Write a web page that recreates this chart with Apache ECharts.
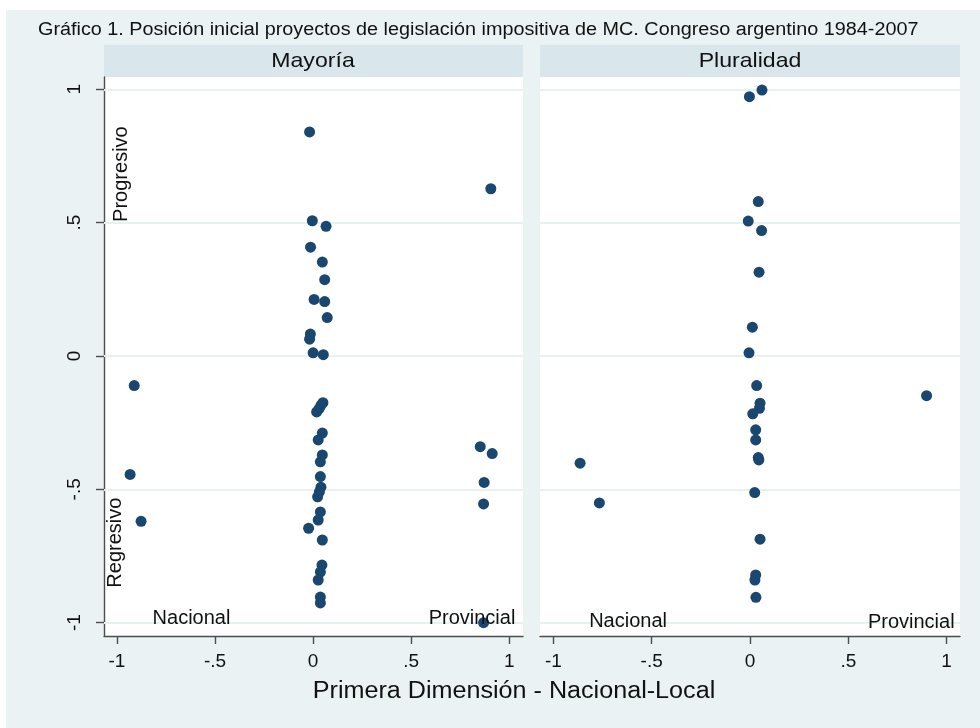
<!DOCTYPE html>
<html>
<head>
<meta charset="utf-8">
<script src="https://cdn.jsdelivr.net/npm/echarts@6/dist/echarts.min.js"></script>
<style>
  html, body { margin: 0; padding: 0; background: #ffffff; }
  #chart { width: 980px; height: 728px; }
</style>
</head>
<body>
<div id="chart"></div>
<script>
// Initial position of each bill: [first dimension (national-local), second dimension (progressive-regressive)]
const mayoria = [
  [-0.018, 0.840], [0.906, 0.627], [-0.004, 0.507], [0.066, 0.486], [-0.013, 0.408],
  [0.047, 0.352], [0.059, 0.286], [0.005, 0.212], [0.059, 0.204], [0.072, 0.144],
  [-0.014, 0.082], [-0.018, 0.063], [0.000, 0.012], [0.052, 0.005],
  [-0.912, -0.111], [-0.933, -0.444], [-0.877, -0.620],
  [0.050, -0.175], [0.040, -0.185], [0.030, -0.198], [0.018, -0.210],
  [0.047, -0.289], [0.026, -0.315], [0.047, -0.371], [0.037, -0.397],
  [0.037, -0.452], [0.040, -0.492], [0.032, -0.510], [0.023, -0.528],
  [0.037, -0.585], [0.026, -0.615], [-0.023, -0.646], [0.047, -0.690],
  [0.045, -0.784], [0.037, -0.810], [0.026, -0.840], [0.037, -0.904], [0.037, -0.926],
  [0.852, -0.340], [0.913, -0.366], [0.872, -0.474], [0.869, -0.555], [0.869, -1.000]
];
const pluralidad = [
  [0.061, 0.997], [-0.003, 0.972], [0.042, 0.579], [-0.009, 0.506], [0.059, 0.470],
  [0.046, 0.314], [0.012, 0.108], [-0.005, 0.012],
  [-0.864, -0.402], [-0.766, -0.551], [0.898, -0.149],
  [0.034, -0.111], [0.051, -0.177], [0.048, -0.196], [0.014, -0.217],
  [0.029, -0.277], [0.029, -0.315], [0.042, -0.381], [0.045, -0.390],
  [0.024, -0.512], [0.051, -0.687], [0.029, -0.821], [0.025, -0.840], [0.030, -0.905]
];

// Text notes placed in data coordinates: [x, y, text]
const notesMayoria = [[-0.62, -0.985, 'Nacional'], [0.81, -0.985, 'Provincial']];
const notesPluralidad = [[-0.62, -0.995, 'Nacional'], [0.82, -1.0, 'Provincial']];
const notesVertical = [[-0.977, 0.682, 'Progresivo'], [-1.005, -0.700, 'Regresivo']];

const xTicks = [-1, -0.5, 0, 0.5, 1];
const yTicks = [-1, -0.5, 0, 0.5, 1];
const panelTitles = ['Mayoría', 'Pluralidad'];
const chartTitle = 'Gráfico 1. Posición inicial proyectos de legislación impositiva de MC. Congreso argentino 1984-2007';
const xTitle = 'Primera Dimensión - Nacional-Local';

const FONT = '"Liberation Sans", Arial, Helvetica, sans-serif';
const BG = '#EAF2F3';
const STRIP = '#D9E6EB';
const DOT = '#1A476F';
const AXIS = '#4d4d4d';
const INK = '#111111';

const fmt = v => (v === 0 ? '0' : String(v).replace('0.', '.'));

const grids = [
  { left: 104, width: 419, top: 77, bottom: 92 },
  { left: 540, width: 420, top: 77, bottom: 92 }
];

function xAxis(i, min, max) {
  return {
    gridIndex: i, type: 'value', min: min, max: max,
    axisLine: { show: true, onZero: false, lineStyle: { color: AXIS, width: 1.4 } },
    axisTick: { show: true, length: 8, customValues: xTicks, lineStyle: { color: AXIS, width: 1.4 } },
    axisLabel: { customValues: xTicks, formatter: fmt, fontSize: 19, color: INK, fontFamily: FONT, margin: 16 },
    splitLine: { show: false }
  };
}
function yAxis(i, visible) {
  return {
    gridIndex: i, type: 'value', min: -1.05, max: 1.046, show: visible,
    axisLine: { show: true, onZero: false, lineStyle: { color: AXIS, width: 1.4 } },
    axisTick: { show: true, length: 8, customValues: yTicks, lineStyle: { color: AXIS, width: 1.4 } },
    axisLabel: { customValues: yTicks, formatter: fmt, fontSize: 19, color: INK, fontFamily: FONT, rotate: 90, margin: 20 },
    splitLine: { show: false }
  };
}

function gridLines(i) {
  return {
    type: 'line', xAxisIndex: i, yAxisIndex: i, data: [], z: 1, silent: true,
    markLine: {
      silent: true, symbol: 'none', z: 1, animation: false,
      label: { show: false },
      lineStyle: { color: '#E8F0F2', width: 2, type: 'solid', opacity: 1 },
      data: yTicks.map(v => ({ yAxis: v }))
    }
  };
}
function dots(i, data) {
  return {
    type: 'scatter', xAxisIndex: i, yAxisIndex: i, data: data, z: 3,
    symbol: 'circle', symbolSize: 11, itemStyle: { color: DOT, opacity: 1 }, silent: true
  };
}
function notes(i, data, rotate) {
  return {
    type: 'scatter', xAxisIndex: i, yAxisIndex: i, z: 4, silent: true,
    symbolSize: 0, itemStyle: { opacity: 1 },
    data: data.map(d => ({ value: [d[0], d[1]], name: d[2] })),
    label: {
      show: true, position: 'inside', formatter: p => p.name, rotate: rotate || 0,
      fontSize: 20, color: INK, opacity: 1, fontFamily: FONT
    }
  };
}

const chart = echarts.init(document.getElementById('chart'), null, { renderer: 'canvas' });
chart.setOption({
  animation: false,
  backgroundColor: BG,
  grid: grids.map(g => Object.assign({ show: true, backgroundColor: '#ffffff', borderWidth: 0 }, g)),
  xAxis: [xAxis(0, -1.066, 1.07), xAxis(1, -1.068, 1.068)],
  yAxis: [yAxis(0, true), yAxis(1, false)],
  series: [
    gridLines(0), gridLines(1),
    dots(0, mayoria), dots(1, pluralidad),
    notes(0, notesMayoria), notes(1, notesPluralidad), notes(0, notesVertical, 90)
  ],
  graphic: [
    { type: 'rect', shape: { x: 0, y: 0, width: 980, height: 10 }, style: { fill: '#ffffff' }, silent: true },
    { type: 'rect', shape: { x: 0, y: 0, width: 6, height: 728 }, style: { fill: '#ffffff' }, silent: true },
    { type: 'text', x: 38, y: 30, scaleX: 1.1, style: { text: chartTitle, font: '18px ' + FONT, fill: INK, verticalAlign: 'middle' }, silent: true },
    { type: 'rect', shape: { x: 104, y: 45, width: 419, height: 32 }, style: { fill: STRIP }, silent: true },
    { type: 'rect', shape: { x: 540, y: 45, width: 420, height: 32 }, style: { fill: STRIP }, silent: true },
    { type: 'text', x: 313, y: 61, scaleX: 1.1, style: { text: panelTitles[0], font: '21px ' + FONT, fill: INK, align: 'center', verticalAlign: 'middle' }, silent: true },
    { type: 'text', x: 750, y: 61, scaleX: 1.1, style: { text: panelTitles[1], font: '21px ' + FONT, fill: INK, align: 'center', verticalAlign: 'middle' }, silent: true },
    { type: 'text', x: 514, y: 692, scaleX: 1.07, style: { text: xTitle, font: '23.5px ' + FONT, fill: INK, align: 'center', verticalAlign: 'middle' }, silent: true }
  ]
});
</script>
</body>
</html>
